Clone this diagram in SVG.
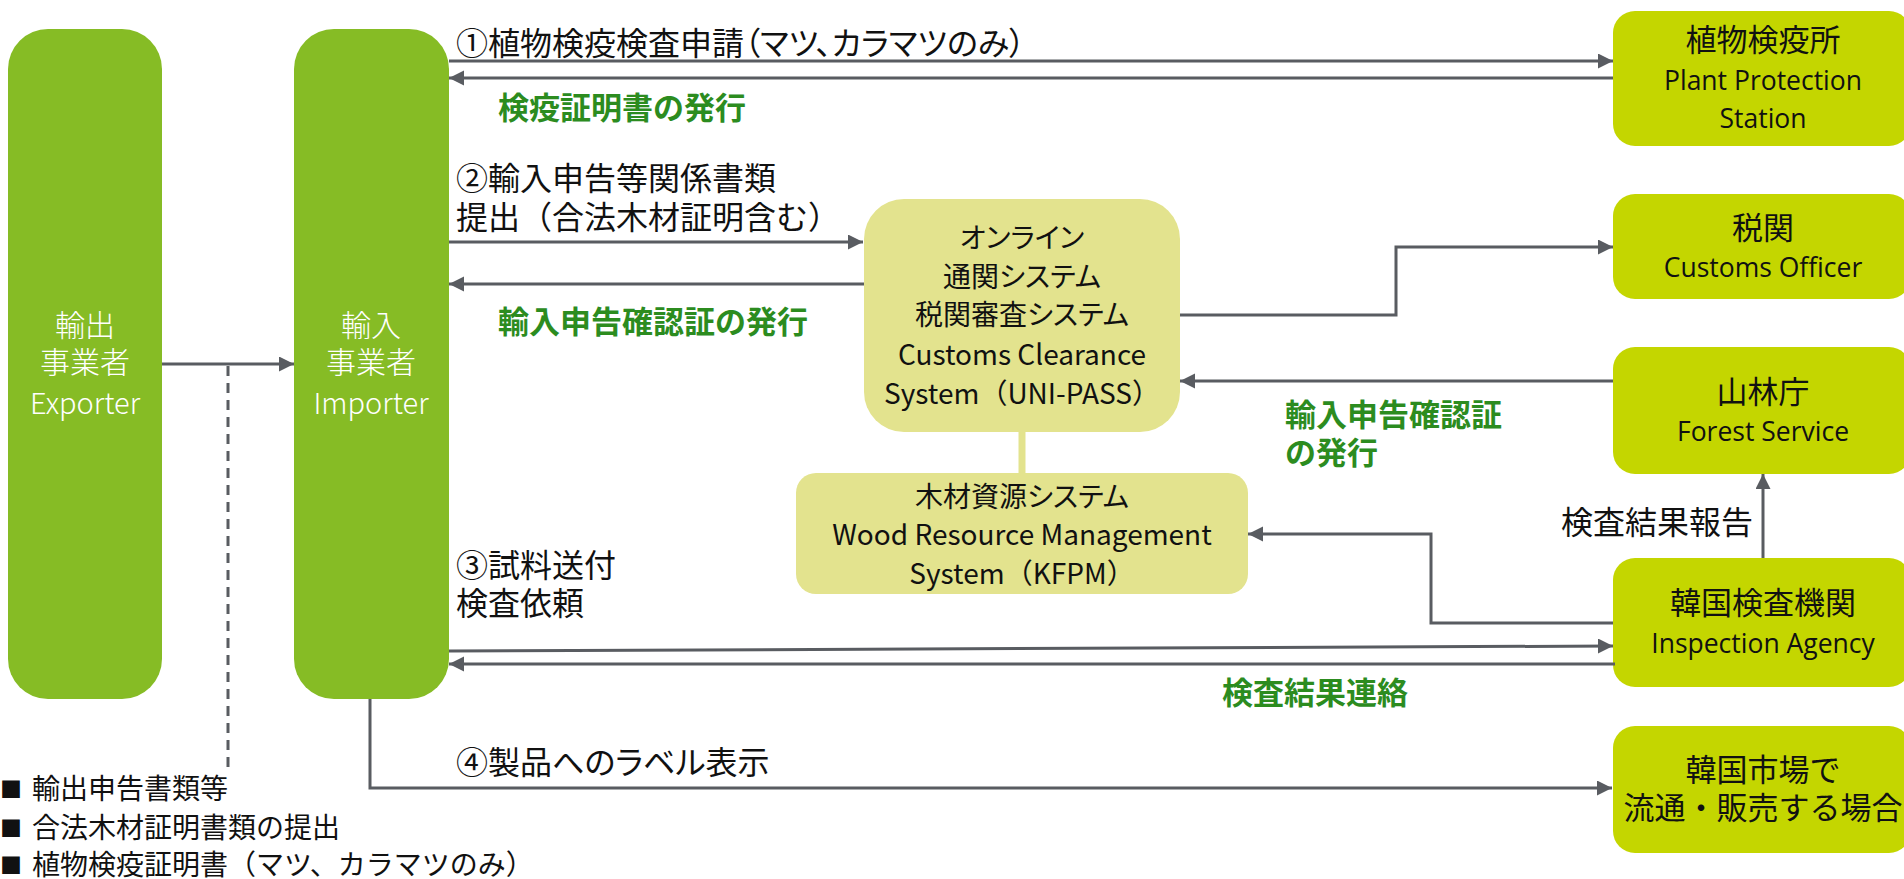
<svg xmlns="http://www.w3.org/2000/svg" width="1904" height="879" viewBox="0 0 1904 879">
<defs>
<marker id="ah" markerUnits="userSpaceOnUse" markerWidth="16" markerHeight="16" refX="15" refY="7.5" orient="auto">
<path d="M0,0 L15,7.5 L0,15 z" fill="#595C61"/>
</marker>
<style>
.lbl{font-family:"Noto Sans CJK JP",sans-serif;font-size:32px;fill:#111;font-feature-settings:"palt"}
.full{font-feature-settings:normal}
.grn{font-family:"Noto Sans CJK JP",sans-serif;font-size:31px;font-weight:700;fill:#2C8C1F}
.side{fill:#86BC25}
.sidet{font-family:"Noto Sans CJK JP",sans-serif;font-weight:300;fill:#fff;text-anchor:middle}
.rbox{fill:#C4D600}
.rj{font-family:"Noto Sans CJK JP",sans-serif;font-size:31px;fill:#111;text-anchor:middle}
.re{font-family:"Open Sans","Noto Sans",sans-serif;font-size:26.5px;fill:#111;text-anchor:middle}
.cbox{fill:#E3E38E}
.cj{font-family:"Noto Sans CJK JP",sans-serif;font-size:28px;fill:#111;text-anchor:middle;font-feature-settings:"palt"}
.ce{font-family:"Noto Sans CJK JP",sans-serif;font-size:28px;fill:#111;text-anchor:middle}
.ln{fill:none;stroke:#595C61;stroke-width:3}
.leg{font-family:"Noto Sans CJK JP",sans-serif;font-size:28px;fill:#111}
.sq{font-family:"Noto Sans CJK JP",sans-serif;font-size:22px;fill:#111}
</style>
</defs>

<g id="exporter">
<rect class="side" x="8" y="29" width="154" height="670" rx="40"/>
<text class="sidet" x="85" y="336" font-size="30">輸出</text>
<text class="sidet" x="85" y="373" font-size="30">事業者</text>
<text class="sidet" x="85" y="414" font-size="29">Exporter</text>
</g>

<g id="importer">
<rect class="side" x="294" y="29" width="155" height="670" rx="40"/>
<text class="sidet" x="371" y="336" font-size="30">輸入</text>
<text class="sidet" x="371" y="373" font-size="30">事業者</text>
<text class="sidet" x="371" y="414" font-size="29">Importer</text>
</g>

<g id="plant-protection">
<rect class="rbox" x="1613" y="11" width="298" height="135" rx="22"/>
<text class="rj" x="1763" y="51">植物検疫所</text>
<text class="re" x="1763" y="90">Plant Protection</text>
<text class="re" x="1763" y="128">Station</text>
</g>

<g id="customs">
<rect class="rbox" x="1613" y="194" width="298" height="105" rx="22"/>
<text class="rj" x="1763" y="239">税関</text>
<text class="re" x="1763" y="277">Customs Officer</text>
</g>

<g id="forest">
<rect class="rbox" x="1613" y="347" width="298" height="127" rx="22"/>
<text class="rj" x="1763" y="403">山林庁</text>
<text class="re" x="1763" y="441">Forest Service</text>
</g>

<g id="inspection">
<rect class="rbox" x="1613" y="558" width="298" height="129" rx="22"/>
<text class="rj" x="1763" y="614">韓国検査機関</text>
<text class="re" x="1763" y="653">Inspection Agency</text>
</g>

<g id="market">
<rect class="rbox" x="1613" y="726" width="298" height="127" rx="22"/>
<text class="rj" x="1763" y="781">韓国市場で</text>
<text class="rj" x="1763" y="819">流通・販売する場合</text>
</g>

<g id="connectors">
<path d="M1022,430 V475" fill="none" stroke="#E3E38E" stroke-width="7"/>
<path class="ln" d="M162,364 H294" marker-end="url(#ah)"/>
<path class="ln" d="M228,366 V768" stroke-dasharray="10,7"/>
<path class="ln" d="M449,61 H1613" marker-end="url(#ah)"/>
<path class="ln" d="M1613,78 H449" marker-end="url(#ah)"/>
<path class="ln" d="M449,242 H863" marker-end="url(#ah)"/>
<path class="ln" d="M864,284 H449" marker-end="url(#ah)"/>
<path class="ln" d="M1180,315 H1396 V247 H1613" marker-end="url(#ah)"/>
<path class="ln" d="M1613,381 H1180" marker-end="url(#ah)"/>
<path class="ln" d="M1613,623 H1431 V534 H1248" marker-end="url(#ah)"/>
<path class="ln" d="M1763,558 V474" marker-end="url(#ah)"/>
<path class="ln" d="M449,651 L1613,646" marker-end="url(#ah)"/>
<path class="ln" d="M1615,664 H449" marker-end="url(#ah)"/>
<path class="ln" d="M370,699 V788 H1612" marker-end="url(#ah)"/>
</g>

<g id="online-system">
<rect class="cbox" x="864" y="199" width="316" height="233" rx="40"/>
<text class="cj" x="1022" y="248">オンライン</text>
<text class="cj" x="1022" y="287">通関システム</text>
<text class="cj" x="1022" y="325">税関審査システム</text>
<text class="ce" x="1022" y="365">Customs Clearance</text>
<text class="ce" x="1022" y="404">System（UNI-PASS）</text>
</g>

<g id="wood-system">
<rect class="cbox" x="796" y="473" width="452" height="121" rx="20"/>
<text class="cj" x="1022" y="507">木材資源システム</text>
<text class="ce" x="1022" y="545">Wood Resource Management</text>
<text class="ce" x="1022" y="584">System（KFPM）</text>
</g>

<g id="labels">
<text class="lbl" x="456" y="55">①植物検疫検査申請（マツ、カラマツのみ）</text>
<text class="grn" x="498" y="119">検疫証明書の発行</text>
<text class="lbl" x="456" y="190">②輸入申告等関係書類</text>
<text class="lbl full" x="456" y="229">提出（合法木材証明含む）</text>
<text class="grn" x="498" y="333">輸入申告確認証の発行</text>
<text class="grn" x="1285" y="426">輸入申告確認証</text>
<text class="grn" x="1285" y="464">の発行</text>
<text class="lbl" x="1561" y="534">検査結果報告</text>
<text class="lbl" x="456" y="577">③試料送付</text>
<text class="lbl" x="456" y="615">検査依頼</text>
<text class="grn" x="1222" y="704">検査結果連絡</text>
<text class="lbl" x="456" y="774">④製品へのラベル表示</text>
</g>

<g id="legend">
<text class="sq" x="0" y="797">■</text>
<text class="leg" x="32" y="799">輸出申告書類等</text>
<text class="sq" x="0" y="836">■</text>
<text class="leg" x="32" y="838">合法木材証明書類の提出</text>
<text class="sq" x="0" y="873">■</text>
<text class="leg" x="32" y="875">植物検疫証明書（マツ、カラマツのみ）</text>
</g>
</svg>
